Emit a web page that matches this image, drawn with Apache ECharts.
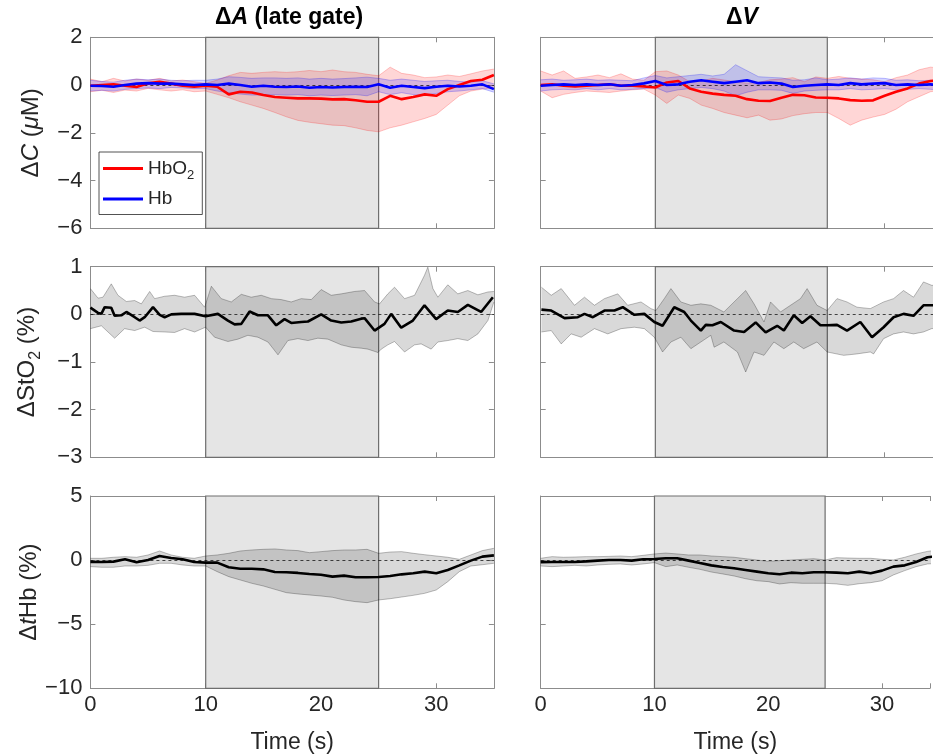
<!DOCTYPE html>
<html><head><meta charset="utf-8">
<script src="https://cdn.jsdelivr.net/npm/echarts@6/dist/echarts.min.js"></script>
<style>html,body{margin:0;padding:0;background:#fff}#c{width:933px;height:756px}</style>
</head><body><div id="c"></div>
<script>
// ---------- data ----------
const times = [0,1,2,3,4,5,6,7,8,9,10,11,12,13,14,15,16,17,18,19,20,21,22,23,24,25,26,27,28,29,30,31,32,33,34,35];
const stimStart = 10, stimEnd = 25;

// Delta A (late gate) - concentration (uM), sampled at `times`
const aHbO2Mean = [-0.03,0,0.03,-0.03,-0.08,0.07,0.14,0.06,-0.03,-0.07,-0.03,-0.07,-0.39,-0.28,-0.31,-0.42,-0.5,-0.53,-0.56,-0.56,-0.57,-0.6,-0.59,-0.64,-0.7,-0.7,-0.45,-0.59,-0.5,-0.39,-0.45,-0.17,0,0.17,0.22,0.42];
const aHbO2Hi = [0.25,0.14,0.28,0.17,0.25,0.2,0.28,0.17,0.21,0.14,0.07,0.21,0.39,0.53,0.49,0.53,0.56,0.53,0.56,0.61,0.56,0.63,0.56,0.53,0.45,0.39,0.75,0.49,0.42,0.31,0.34,0.42,0.36,0.47,0.59,0.67];
const aHbO2Lo = [-0.28,-0.22,-0.31,-0.21,-0.25,-0.14,-0.2,-0.25,-0.2,-0.28,-0.25,-0.39,-0.53,-0.7,-0.84,-0.98,-1.15,-1.33,-1.48,-1.56,-1.62,-1.68,-1.7,-1.79,-1.9,-1.96,-1.79,-1.68,-1.54,-1.4,-1.23,-0.84,-0.45,-0.25,-0.17,-0.11];
const aHbMean = [-0.03,-0.04,-0.07,0,0.06,0.08,0.06,0.06,0.03,0,0.03,0,0.06,0,-0.07,-0.03,-0.07,-0.08,-0.06,-0.11,-0.08,-0.1,-0.08,-0.07,-0.08,0.03,-0.11,-0.03,-0.08,-0.13,-0.07,-0.03,-0.06,-0.03,0.03,-0.17];
const aHbHi = [0.2,0.15,0.12,0.2,0.25,0.22,0.25,0.2,0.18,0.2,0.2,0.25,0.35,0.32,0.28,0.3,0.3,0.28,0.3,0.25,0.28,0.25,0.27,0.3,0.33,0.28,0.2,0.25,0.2,0.15,0.18,0.2,0.15,0.12,0.18,0.05];
const aHbLo = [-0.25,-0.22,-0.25,-0.18,-0.15,-0.12,-0.15,-0.1,-0.12,-0.15,-0.15,-0.25,-0.32,-0.38,-0.42,-0.42,-0.4,-0.42,-0.4,-0.45,-0.42,-0.44,-0.42,-0.4,-0.45,-0.28,-0.4,-0.32,-0.4,-0.42,-0.35,-0.28,-0.25,-0.2,-0.15,-0.3];

// Delta V - concentration (uM), sampled at `times`
const vHbO2Mean = [0,0.03,-0.03,-0.06,-0.03,0,0.03,-0.03,-0.03,-0.06,-0.1,0.11,0.17,-0.14,-0.28,-0.36,-0.41,-0.45,-0.59,-0.66,-0.67,-0.53,-0.41,-0.43,-0.52,-0.53,-0.56,-0.63,-0.66,-0.64,-0.45,-0.28,-0.14,0.06,0.17,0.22];
const vHbO2Hi = [0.59,0.42,0.59,0.28,0.34,0.42,0.31,0.47,0.25,0.2,0.56,0.59,0.42,0.14,0.17,0.28,0.21,0.14,0.08,0.11,0.22,0.25,0.31,0.14,0.34,0.28,0.36,0.28,0.25,0.22,0.14,0.31,0.42,0.64,0.75,0.7];
const vHbO2Lo = [-0.25,-0.53,-0.39,-0.31,-0.25,-0.28,-0.31,-0.25,-0.2,-0.17,-0.42,-0.77,-0.42,-0.56,-0.84,-0.98,-1.15,-1.26,-1.37,-1.26,-1.47,-1.42,-1.28,-1.2,-1.15,-1.15,-1.4,-1.68,-1.47,-1.34,-1.23,-1.01,-0.7,-0.49,-0.28,-0.21];
const vHbMean = [-0.03,0,0.03,0,0.03,0,0.03,-0.03,0,0.07,0.17,0,0.03,0.14,0.2,0.14,0.08,0.14,0.2,0.08,0.11,0.06,-0.08,-0.03,0,0.03,0,0.08,0.03,0.06,0.08,0,0.03,0,0.03,-0.03];
const vHbHi = [0.22,0.25,0.2,0.22,0.25,0.2,0.22,0.2,0.18,0.3,0.4,0.3,0.35,0.4,0.45,0.38,0.45,0.85,0.6,0.35,0.32,0.3,0.2,0.22,0.3,0.22,0.25,0.3,0.25,0.3,0.28,0.2,0.22,0.18,0.2,0.15];
const vHbLo = [-0.25,-0.2,-0.18,-0.2,-0.15,-0.2,-0.15,-0.2,-0.18,-0.15,-0.1,-0.3,-0.2,-0.15,-0.1,-0.15,-0.25,-0.45,-0.3,-0.2,-0.2,-0.22,-0.35,-0.25,-0.22,-0.2,-0.2,-0.15,-0.2,-0.18,-0.15,-0.2,-0.18,-0.15,-0.18,-0.22];

// Delta StO2 (%) for A, read at irregular times
const aStO2MeanT = [0,0.66,0.95,1.24,1.81,2.1,2.68,3.12,3.84,4.27,4.71,5.43,6.01,6.44,7.02,7.88,9.04,9.99,11.06,11.93,12.51,13.09,13.81,14.53,15.4,16.12,16.84,17.42,18.29,18.87,20.02,20.89,21.76,22.62,23.49,23.78,24.65,25.51,26.09,26.96,27.97,28.98,29.99,31,31.87,32.74,33.89,34.91];
const aStO2Mean = [0.14,0.03,0.01,0.15,0.14,-0.03,-0.02,0.05,-0.06,-0.13,-0.06,0.15,-0.01,-0.06,0,0.01,0.01,-0.04,0.01,-0.13,-0.21,-0.2,0.06,-0.02,-0.02,-0.23,-0.1,-0.18,-0.16,-0.15,0,-0.13,-0.17,-0.15,-0.09,-0.08,-0.34,-0.2,0.01,-0.28,-0.13,0.19,-0.1,0.08,0.05,0.2,0.05,0.36];
const aStO2HiT = [0,0.66,1.09,1.81,2.39,3.12,3.84,4.42,5.14,5.57,6.44,7.31,8.17,9.04,9.91,10.49,11.35,12.22,13.09,13.95,14.82,15.69,16.55,17.42,18.29,19.16,20.02,20.89,21.76,22.91,23.78,24.65,25.08,25.8,26.38,27.25,28.12,28.98,29.27,29.71,30.14,31,31.87,32.74,33.61,34.48,35];
const aStO2Hi = [0.54,0.34,0.36,0.64,0.4,0.27,0.29,0.22,0.48,0.33,0.38,0.4,0.36,0.4,0.15,0.59,0.33,0.26,0.42,0.36,0.4,0.33,0.31,0.26,0.33,0.31,0.52,0.4,0.43,0.48,0.5,0.26,0.22,0.43,0.57,0.33,0.4,0.82,0.99,0.54,0.36,0.62,0.43,0.5,0.41,0.47,0.48];
const aStO2LoT = [0,0.95,2.1,2.97,3.84,4.71,5.43,6.44,7.31,8.17,9.04,9.99,10.77,11.93,12.8,13.66,14.53,15.4,16.27,17.13,18,18.87,19.73,20.6,21.76,22.62,23.49,24.07,24.94,25.23,25.8,26.38,27.25,28.12,28.69,29.56,30.14,31,31.87,32.74,33.61,34.48,35];
const aStO2Lo = [-0.3,-0.24,-0.5,-0.3,-0.34,-0.27,-0.36,-0.37,-0.38,-0.3,-0.37,-0.27,-0.48,-0.57,-0.52,-0.44,-0.48,-0.58,-0.85,-0.55,-0.51,-0.55,-0.5,-0.52,-0.64,-0.69,-0.71,-0.73,-0.8,-0.73,-0.64,-0.57,-0.79,-0.64,-0.62,-0.73,-0.58,-0.55,-0.51,-0.55,-0.41,-0.13,0.26];

// Delta StO2 (%) for V, read at irregular times
const vStO2MeanT = [0.06,0.92,2.08,3.24,3.82,4.55,5.56,6.43,7.16,8.17,9.04,9.91,10.63,11.65,12.52,13.1,13.97,14.4,14.98,15.71,16.87,17.74,18.75,19.62,20.63,21.21,22.08,22.81,23.53,24.4,24.98,25.85,26.72,27.88,28.9,29.91,30.78,31.65,32.52,33.39,34.1,35];
const vStO2Mean = [0.1,0.08,-0.08,-0.06,0.01,-0.06,0.08,0.08,0.15,-0.01,0.01,-0.16,-0.24,0.15,0.05,-0.13,-0.34,-0.22,-0.23,-0.16,-0.34,-0.37,-0.17,-0.38,-0.24,-0.34,-0.02,-0.18,-0.04,-0.23,-0.23,-0.22,-0.34,-0.16,-0.48,-0.27,-0.06,0.01,-0.03,0.19,0.19,0.2];
const vStO2HiT = [0.06,0.92,1.79,2.95,3.82,4.69,5.56,6.72,7.59,8.75,9.62,10.05,10.78,11.36,12.23,13.1,13.97,14.84,15.98,17.16,17.88,18.61,19.48,20.05,20.92,21.79,22.66,23.24,24.1,24.99,25.85,26.72,27.59,28.75,29.91,30.78,31.65,32.52,33.39,34.1,35];
const vStO2Hi = [0.57,0.4,0.54,0.19,0.36,0.19,0.33,0.43,0.19,0.26,0.12,0.08,0.33,0.54,0.26,0.19,0.22,0.19,0.05,0.33,0.5,0.22,-0.16,0.26,0.05,0.19,0.33,0.54,0.19,0.08,0.33,0.26,0.15,0.12,0.26,0.33,0.5,0.36,0.68,0.61,0.6];
const vStO2LoT = [0.06,0.92,1.79,2.66,3.53,4.69,5.85,7.01,8.17,9.04,9.91,10.63,11.36,12.23,13.1,13.97,14.84,15.13,15.98,17.16,17.88,18.61,19.48,20.34,21.21,22.08,22.94,24.1,24.99,26.43,27.59,28.75,29.04,29.91,30.78,31.65,32.52,33.39,34.1,35];
const vStO2Lo = [-0.37,-0.34,-0.62,-0.41,-0.48,-0.3,-0.41,-0.3,-0.27,-0.3,-0.48,-0.79,-0.58,-0.48,-0.72,-0.58,-0.44,-0.69,-0.58,-0.79,-1.21,-0.79,-0.86,-0.58,-0.72,-0.58,-0.72,-0.58,-0.79,-0.86,-0.83,-0.79,-0.83,-0.51,-0.41,-0.37,-0.41,-0.37,-0.3,-0.28];

// Delta tHb (%), sampled at `times`
const aTHbMean = [-0.15,-0.15,-0.12,0.06,-0.17,0.01,0.32,0.16,0.06,-0.15,-0.2,-0.2,-0.56,-0.67,-0.67,-0.72,-0.93,-0.95,-1.0,-1.08,-1.14,-1.29,-1.21,-1.34,-1.34,-1.32,-1.24,-1.11,-1.03,-0.9,-1.03,-0.77,-0.41,-0.04,0.27,0.37];
const aTHbHi = [0.14,0.14,0.22,0.27,0.22,0.4,0.71,0.4,0.22,0.14,0.32,0.4,0.53,0.71,0.79,0.84,0.87,0.79,0.74,0.58,0.66,0.74,0.79,0.79,0.84,0.53,0.63,0.66,0.53,0.42,0.32,0.22,0.06,0.4,0.74,0.92];
const aTHbLo = [-0.51,-0.56,-0.56,-0.46,-0.46,-0.41,-0.25,-0.25,-0.38,-0.46,-0.46,-0.9,-1.29,-1.55,-1.81,-2.02,-2.28,-2.54,-2.64,-2.72,-2.8,-2.9,-3.11,-3.24,-3.32,-3.11,-3.01,-2.88,-2.75,-2.59,-2.33,-1.68,-0.9,-0.46,-0.36,-0.25];
const vTHbMean = [-0.17,-0.15,-0.15,-0.15,-0.1,-0.04,0.01,0.01,-0.04,0.06,0.09,0.14,0.14,-0.04,-0.23,-0.41,-0.54,-0.64,-0.77,-0.9,-1.03,-1.11,-0.98,-1.03,-0.95,-0.95,-0.98,-1.03,-0.9,-1.03,-0.82,-0.51,-0.41,-0.15,0.22,0.32];
const vTHbHi = [0.14,0.27,0.22,0.24,0.27,0.27,0.29,0.32,0.27,0.37,0.48,0.55,0.48,0.4,0.4,0.32,0.27,0.22,0.11,0.01,-0.1,-0.04,0.01,0.06,0.11,0.01,0.19,0.16,0.14,0.14,0.06,0.01,0.22,0.48,0.68,0.79];
const vTHbLo = [-0.46,-0.51,-0.46,-0.41,-0.46,-0.38,-0.33,-0.3,-0.38,-0.3,-0.2,-0.51,-0.38,-0.56,-0.72,-0.93,-1.08,-1.24,-1.45,-1.61,-1.68,-1.86,-1.76,-1.81,-1.81,-1.81,-1.86,-1.97,-1.84,-1.76,-1.61,-1.16,-0.82,-0.51,-0.3,-0.25];

// axis settings (right column is cut off by the figure edge at ~34.2 s)
const xRanges = [[0, 35, 10], [0, 34.22, 10]];
const yRanges = [[-6,2,2],[-6,2,2],[-3,1,1],[-3,1,1],[-10,5,5],[-10,5,5]];
const colTitles = ['{n|Δ}{i|A}{n| (late gate)}', '{n|Δ}{i|V}'];
const yNames = ['{n|Δ}{i|C}{n| (}{i|μ}{n|M)}', '{n|ΔStO}{s|2}{n| (%)}', '{n|Δ}{i|t}{n|Hb (%)}'];
const xName = 'Time (s)';

// ---------- layout / style ----------
const FONT = '"Liberation Sans", Arial, Helvetica, sans-serif';
const TXT = '#262626';
const FRAME = '#8c8c8c';
const colLeft = [90.4, 540.7], colWidth = [403.5, 393.5];
const rowTop = [37.3, 266.7, 496], rowHeight = [191, 190.6, 192.3];
const TICK_FS = 22, NAME_FS = 24, XNAME_FS = 23, TITLE_FS = 23, LEG_FS = 19;

const richTxt = (size) => ({
  n: {fontSize: size, fontFamily: FONT, color: TXT},
  i: {fontSize: size, fontFamily: FONT, color: TXT, fontStyle: 'italic'},
  s: {fontSize: Math.round(size*0.68), fontFamily: FONT, color: TXT, verticalAlign: 'bottom', lineHeight: size + 8}
});

const grid = [], xAxis = [], yAxis = [], series = [];
for (let i = 0; i < 6; i++) {
  const r = Math.floor(i/2), c = i % 2;
  const [xmin, xmax, xint] = xRanges[c];
  grid.push({left: colLeft[c], top: rowTop[r], width: colWidth[c], height: rowHeight[r],
    show: true, borderWidth: 0, backgroundColor: '#fff', containLabel: false});
  const tick = {show: true, inside: true, length: 5, lineStyle: {color: FRAME, width: 1}};
  const frameLine = {show: true, onZero: false, lineStyle: {color: FRAME, width: 1}};
  xAxis.push({type: 'value', gridIndex: i, min: xmin, max: xmax, interval: xint, position: 'bottom',
    axisLine: frameLine, axisTick: tick, splitLine: {show: false},
    axisLabel: {show: r === 2, margin: 6, fontSize: TICK_FS, fontFamily: FONT, color: TXT,
      formatter: v => (v % 10 === 0 ? String(v) : '')},
    name: r === 2 ? xName : '', nameLocation: 'middle', nameGap: 43,
    nameTextStyle: {fontSize: XNAME_FS, fontFamily: FONT, color: TXT}});
  xAxis.push({type: 'value', gridIndex: i, min: xmin, max: xmax, interval: xint, position: 'top',
    axisLine: frameLine, axisTick: tick, splitLine: {show: false}, axisLabel: {show: false}});
  const [ymin, ymax, yint] = yRanges[i];
  yAxis.push({type: 'value', gridIndex: i, min: ymin, max: ymax, interval: yint, position: 'left',
    axisLine: frameLine, axisTick: tick, splitLine: {show: false},
    axisLabel: {show: c === 0, margin: 8, fontSize: TICK_FS, fontFamily: FONT, color: TXT,
      formatter: v => (v < 0 ? '\u2212' + Math.abs(v) : String(v))},
    name: c === 0 ? yNames[r] : '', nameLocation: 'middle', nameGap: 47, nameRotate: 90,
    nameTextStyle: {fontSize: NAME_FS, fontFamily: FONT, color: TXT, rich: richTxt(NAME_FS)}});
  yAxis.push({type: 'value', gridIndex: i, min: ymin, max: ymax, interval: yint, position: 'right',
    axisLine: c === 0 ? frameLine : {show: false, onZero: false},
    axisTick: c === 0 ? tick : {show: false},
    splitLine: {show: false}, axisLabel: {show: false}});

  // stimulus patch
  series.push({type: 'line', xAxisIndex: 2*i, yAxisIndex: 2*i, data: [], z: 1, silent: true,
    markArea: {silent: true, itemStyle: {color: '#e5e5e5', borderColor: '#6e6e6e', borderWidth: 1.2},
      data: [[{xAxis: stimStart}, {xAxis: stimEnd}]]}});
  // zero reference line
  series.push({type: 'line', xAxisIndex: 2*i, yAxisIndex: 2*i, data: [], z: 4, silent: true,
    markLine: {silent: true, symbol: 'none', label: {show: false},
      lineStyle: {color: '#000', type: [3, 3], width: 0.7}, data: [{yAxis: 0}]}});
}

// shaded band between lo and hi, drawn through the axis scales
function band(gi, loT, lo, hiT, hi, fill, edge) {
  series.push({type: 'custom', xAxisIndex: 2*gi, yAxisIndex: 2*gi, z: 3, silent: true, clip: true,
    data: hiT.map((t, k) => [t, hi[k]]).concat(loT.map((t, k) => [t, lo[k]])),
    encode: {x: 0, y: 1},
    renderItem: (params, api) => {
      if (params.dataIndex !== 0) return null;
      const up = hiT.map((t, k) => api.coord([t, hi[k]]));
      const dn = loT.map((t, k) => api.coord([t, lo[k]]));
      return {type: 'group', children: [
        {type: 'polygon', shape: {points: up.concat(dn.slice().reverse())}, style: {fill: fill, stroke: null}},
        {type: 'polyline', shape: {points: up}, style: {stroke: edge, lineWidth: 0.8, fill: null}},
        {type: 'polyline', shape: {points: dn}, style: {stroke: edge, lineWidth: 0.8, fill: null}}
      ]};
    }});
}
function meanLine(gi, ts, vals, color, name) {
  series.push({type: 'line', name: name, xAxisIndex: 2*gi, yAxisIndex: 2*gi, symbol: 'none', z: 5,
    data: ts.map((t, k) => [t, vals[k]]), lineStyle: {color: color, width: 2.6}, itemStyle: {color: color}});
}
const RED_FILL = 'rgba(255,0,0,0.16)', RED_EDGE = 'rgba(255,0,0,0.28)';
const BLUE_FILL = 'rgba(0,0,255,0.16)', BLUE_EDGE = 'rgba(0,0,255,0.3)';
const GRAY_FILL = 'rgba(0,0,0,0.15)', GRAY_EDGE = 'rgba(0,0,0,0.33)';

band(0, times, aHbO2Lo, times, aHbO2Hi, RED_FILL, RED_EDGE);
band(0, times, aHbLo, times, aHbHi, BLUE_FILL, BLUE_EDGE);
meanLine(0, times, aHbO2Mean, '#ff0000', 'HbO2');
meanLine(0, times, aHbMean, '#0000ff', 'Hb');
band(1, times, vHbO2Lo, times, vHbO2Hi, RED_FILL, RED_EDGE);
band(1, times, vHbLo, times, vHbHi, BLUE_FILL, BLUE_EDGE);
meanLine(1, times, vHbO2Mean, '#ff0000', 'HbO2');
meanLine(1, times, vHbMean, '#0000ff', 'Hb');
band(2, aStO2LoT, aStO2Lo, aStO2HiT, aStO2Hi, GRAY_FILL, GRAY_EDGE);
meanLine(2, aStO2MeanT, aStO2Mean, '#000000', 'StO2 A');
band(3, vStO2LoT, vStO2Lo, vStO2HiT, vStO2Hi, GRAY_FILL, GRAY_EDGE);
meanLine(3, vStO2MeanT, vStO2Mean, '#000000', 'StO2 V');
band(4, times, aTHbLo, times, aTHbHi, GRAY_FILL, GRAY_EDGE);
meanLine(4, times, aTHbMean, '#000000', 'tHb A');
band(5, times, vTHbLo, times, vTHbHi, GRAY_FILL, GRAY_EDGE);
meanLine(5, times, vTHbMean, '#000000', 'tHb V');

const titleRich = {
  n: {fontSize: TITLE_FS, fontFamily: FONT, fill: '#000', fontWeight: 'bold'},
  i: {fontSize: TITLE_FS, fontFamily: FONT, fill: '#000', fontWeight: 'bold', fontStyle: 'italic'}
};

const option = {
  animation: false,
  backgroundColor: '#fff',
  grid, xAxis, yAxis, series,
  legend: {
    data: [{name: 'HbO2', icon: 'rect'}, {name: 'Hb', icon: 'rect'}], left: 99, top: 152, orient: 'vertical',
    itemWidth: 40, itemHeight: 3, itemGap: 8,
    padding: [7, 8, 6, 4],
    backgroundColor: '#fff', borderColor: '#262626', borderWidth: 0.8, borderRadius: 0,
    selectedMode: false,
    textStyle: {fontSize: LEG_FS, fontFamily: FONT, color: TXT,
      rich: {s: {fontSize: 13, fontFamily: FONT, color: TXT, verticalAlign: 'bottom', lineHeight: 26}}},
    formatter: name => (name === 'HbO2' ? 'HbO{s|2}' : name)
  },
  graphic: [
    {type: 'text', x: colLeft[0] + colWidth[0]/2 - 3, y: 18, silent: true,
      style: {text: colTitles[0], rich: titleRich, align: 'center', verticalAlign: 'middle', fontSize: TITLE_FS, fontFamily: FONT, fontWeight: 'bold'}},
    {type: 'text', x: 742, y: 18, silent: true,
      style: {text: colTitles[1], rich: titleRich, align: 'center', verticalAlign: 'middle', fontSize: TITLE_FS, fontFamily: FONT, fontWeight: 'bold'}}
  ]
};

const chart = echarts.init(document.getElementById('c'), null, {renderer: 'canvas'});
chart.setOption(option);
</script>
</body></html>
